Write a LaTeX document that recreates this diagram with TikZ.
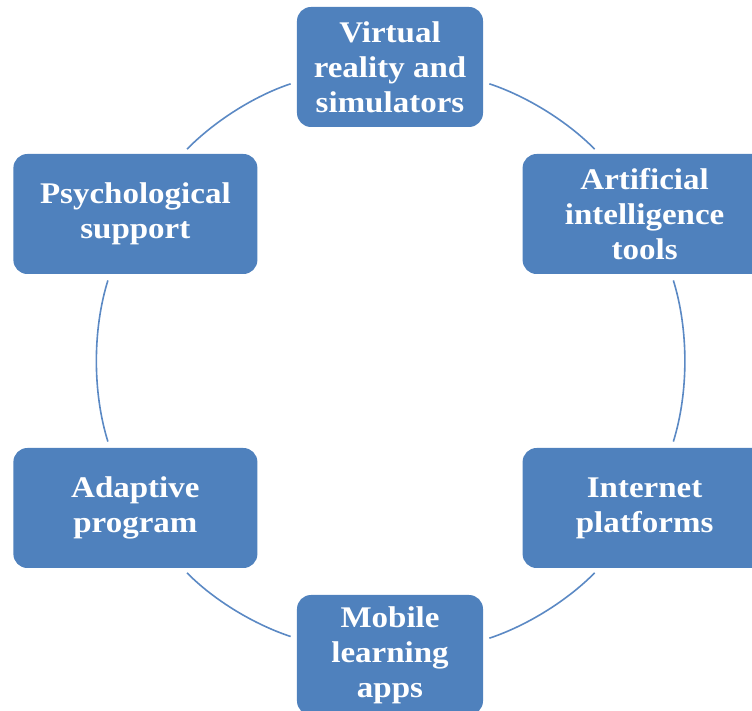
\documentclass[tikz,border=0pt]{standalone}
\usepackage{fontspec}
\setmainfont{Liberation Serif}[FakeStretch=1.1]
\definecolor{boxBlue}{RGB}{79,129,189}
\definecolor{arcBlue}{RGB}{91,137,196}

\begin{document}
\begin{tikzpicture}
[x=1pt,y=1pt,
  cycleBox/.style={shape=rectangle,rounded corners=14pt,fill=boxBlue,text=white,%
    font=\fontsize{30}{35}\selectfont\bfseries,align=center,inner sep=0pt,minimum height=120pt},%
  cycleArc/.style={color=arcBlue,line width=1.6pt,looseness=0.86,shorten <=6.5pt,shorten >=6.5pt}]
\useasboundingbox (-390,-350) rectangle (362,361);
\clip (-390,-350) rectangle (362,361);
%% boxes round the cycle
\foreach \nodename/\ang/\boxwidth/\boxtext in {
  vr/90/186pt/{Virtual\\reality and\\simulators},
  ai/30/244pt/{Artificial\\intelligence\\tools},
  ip/-30/244pt/{Internet\\platforms},
  ml/-90/186pt/{Mobile\\learning\\apps},
  ap/210/244pt/{Adaptive\\program},
  ps/150/244pt/{Psychological\\support}}
{
  \node (\nodename) at (\ang:294) [cycleBox,minimum width=\boxwidth] {\boxtext};
}
%% arcs between the boxes
\path
\foreach \startnode/\endnode/\outangle/\inangle in {
  vr.-9.2/ai.127.3/-18.4/134.6, ai.-66.3/ip.66.3/-72.7/72.7,
  ip.-127.3/ml.9.2/-134.6/18.4, ml.170.8/ap.-52.7/161.6/-45.4,
  ap.113.7/ps.-113.7/107.3/-107.3, ps.52.7/vr.189.2/45.4/-161.6}
{
  (\startnode) edge[cycleArc,out=\outangle,in=\inangle] (\endnode)
};
\end{tikzpicture}
\end{document}
